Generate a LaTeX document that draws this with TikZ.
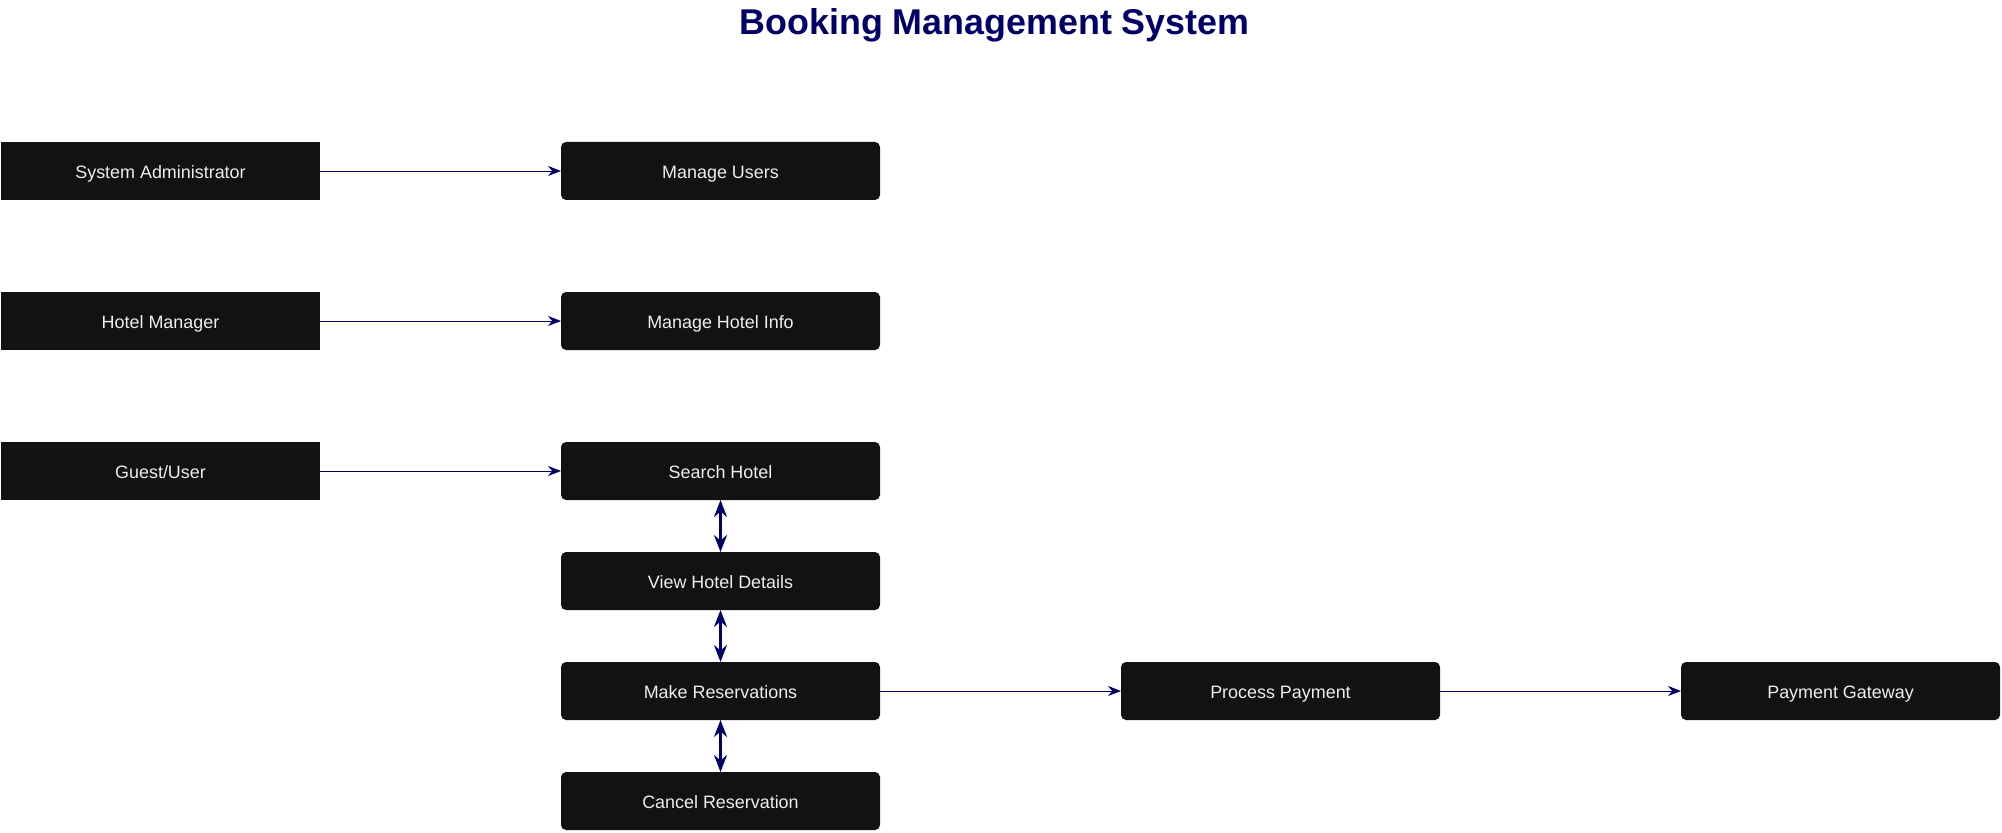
\documentclass[tikz,border=0pt]{standalone}
\usepackage{xcolor}
\usepackage{fontspec}
\setmainfont{Liberation Sans}
\usepackage{tikz}
\usetikzlibrary{positioning}
\usetikzlibrary{arrows.meta}

\definecolor{navy}{HTML}{000066}
\definecolor{boxfill}{HTML}{121212}
\definecolor{boxtext}{HTML}{EEEEEE}

\begin{document}
\begin{tikzpicture}[
	actor/.style={fill=boxfill, text=boxtext, minimum width=6.38cm, minimum height=1.16cm, inner sep=0pt, outer sep=0pt, text height=0.9em, text depth=0.08em, font=\fontsize{10.2}{12}\selectfont},
	usecase/.style={actor, rounded corners=0.1cm},
	link/.style={-{Stealth[length=2.6mm,width=2mm]}, draw=navy, line width=0.55pt},
	both/.style={{Stealth[length=3.4mm,width=2.6mm]}-{Stealth[length=3.4mm,width=2.6mm]}, draw=navy, line width=1.2pt}
	]
	\useasboundingbox (0,0) rectangle (40.04,-16.66);
	\node[text=navy, font=\bfseries\fontsize{20.4}{24}\selectfont] (title) at (19.89,-0.51) {Booking Management System};
	
	\node[actor] (sa) at (3.21,-3.42) {System Administrator};
	\node[actor] (hm) [below = 1.84cm of sa] {Hotel Manager};
	\node[actor] (gu) [below = 1.84cm of hm] {Guest/User};
	
	\node[usecase] (mu) [right = 4.82cm of sa] {Manage Users};
	\node[usecase] (mh) [right = 4.82cm of hm] {Manage Hotel Info};
	\node[usecase] (sh) [right = 4.82cm of gu] {Search Hotel};
	\node[usecase] (vd) [below = 1.04cm of sh] {View Hotel Details};
	\node[usecase] (mr) [below = 1.04cm of vd] {Make Reservations};
	\node[usecase] (cr) [below = 1.04cm of mr] {Cancel Reservation};
	
	\node[usecase] (pp) [right = 4.82cm of mr] {Process Payment};
	\node[usecase] (pg) [right = 4.82cm of pp] {Payment Gateway};
	
	\draw[link] (sa) -- (mu);
	\draw[link] (hm) -- (mh);
	\draw[link] (gu) -- (sh);
	\draw[both] (sh) -- (vd);
	\draw[both] (vd) -- (mr);
	\draw[both] (mr) -- (cr);
	\draw[link] (mr) -- (pp);
	\draw[link] (pp) -- (pg);
\end{tikzpicture}
\end{document}
